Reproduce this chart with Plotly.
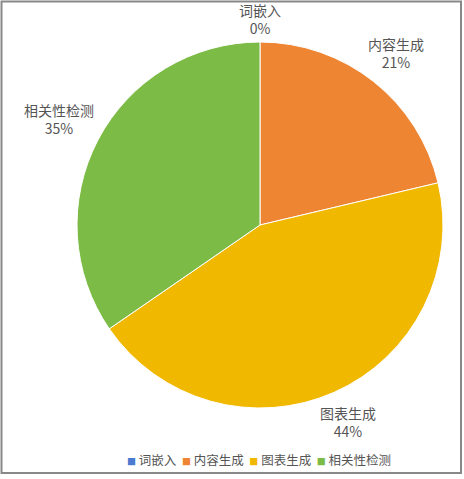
import math

import plotly.graph_objects as go

labels = ['词嵌入', '内容生成', '图表生成', '相关性检测']
values = [0, 21.3, 44.1, 34.6]
colors = ['#4A7BD0', '#EE8533', '#F1B800', '#7CBB46']

W, H = 464, 479
CX, CY, R = 260, 225, 183  # pie centre and radius in pixels
FONT = 'Noto Sans CJK SC, Noto Sans, sans-serif'
TEXT_COLOR = '#555555'

fig = go.Figure(go.Pie(labels=labels,
                       values=values,
                       sort=False,
                       direction='clockwise',
                       rotation=0,
                       marker=dict(colors=colors, line=dict(color='white', width=1)),
                       textinfo='none',
                       hoverinfo='label+percent',
                       showlegend=False,
                       domain=dict(x=[(CX - R) / W, (CX + R) / W],
                                   y=[1 - (CY + R) / H, 1 - (CY - R) / H])))

# outside labels, placed along each slice's mid angle
total = sum(values)
annotations = []
start = 0
for lab, val in zip(labels, values):
    theta = math.radians((start + val / 2) / total * 360)
    start += val
    w = len(lab) * 14
    h = 38
    d = R + 4 + abs(math.sin(theta)) * w / 2 + abs(math.cos(theta)) * h / 2
    px = CX + d * math.sin(theta)
    py = CY - d * math.cos(theta)
    annotations.append(dict(x=px / W, y=1 - py / H, xref='paper', yref='paper',
                            xanchor='center', yanchor='middle', showarrow=False,
                            text=f'{lab}<br>{round(val / total * 100)}%',
                            font=dict(family=FONT, size=14, color=TEXT_COLOR)))

# legend row under the pie
items = [f"<span style='color:{c};font-size:9px'>■</span>\u00a0{lab}" for lab, c in zip(labels, colors)]
annotations.append(dict(x=259 / W, y=1 - 459 / H, xref='paper', yref='paper',
                        xanchor='center', yanchor='middle', showarrow=False,
                        text='\u00a0\u00a0'.join(items),
                        font=dict(family=FONT, size=12.5, color=TEXT_COLOR)))

fig.update_layout(width=W, height=H,
                  margin=dict(l=0, r=0, t=0, b=0),
                  paper_bgcolor='white',
                  font=dict(family=FONT, color=TEXT_COLOR),
                  annotations=annotations,
                  shapes=[dict(type='rect', xref='paper', yref='paper',
                               x0=1.5 / W, x1=461 / W, y0=1 - 473 / H, y1=1 - 1.5 / H,
                               line=dict(color='#888888', width=2))])

fig.write_html('out.html', config={'displayModeBar': False},
               post_script="document.body.style.margin='0';")
